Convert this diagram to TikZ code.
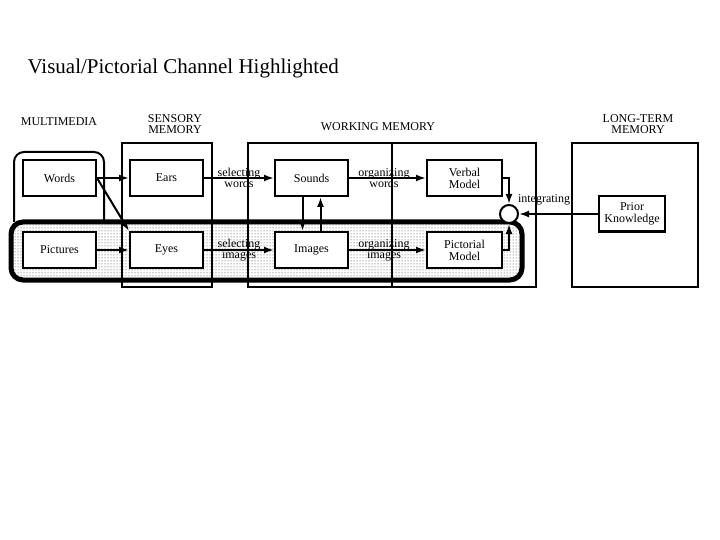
\documentclass[tikz,border=0pt]{standalone}
\usepackage{fontspec}
\setmainfont{Liberation Serif}
\usetikzlibrary{arrows.meta,patterns}
\begin{document}
\begin{tikzpicture}[x=1pt,y=-1pt,
  box/.style={draw,line width=2pt,minimum width=73pt,minimum height=36pt,inner sep=1pt,align=center,font=\fontsize{12}{12}\selectfont,fill=white},
  frame/.style={draw,line width=2pt},
  arr/.style={line width=2pt,-{Latex[length=10pt,width=7pt]}},
  lbl/.style={font=\fontsize{12}{11}\selectfont,align=center,inner sep=0pt},
  hd/.style={font=\fontsize{12}{11}\selectfont,align=center}]
\useasboundingbox (0,0) rectangle (720,540);
\node[anchor=west,font=\fontsize{21}{21}\selectfont] (title) at (24,68) {Visual/Pictorial Channel Highlighted};
\node[hd] (hmm) at (59,122) {MULTIMEDIA};
\node[hd] (hsm) at (175,124) {SENSORY\\MEMORY};
\node[hd] (hwm) at (378,127) {WORKING MEMORY};
\node[hd] (hlt) at (638,124) {LONG-TERM\\MEMORY};
% frames
\draw[frame,rounded corners=10pt] (14,222) -- (14,152) -- (104,152) -- (104,222);
\draw[frame] (122,143) rectangle (212,287);
\draw[frame] (248,143) rectangle (536,287);
\draw[frame] (392,143) -- (392,287);
\draw[frame] (572,143) rectangle (698,287);
% highlight
\draw[line width=5pt,rounded corners=12pt,pattern=dots,pattern color=black!80] (11,222) rectangle (522,280);
\draw[frame] (392,224) -- (392,287);
% boxes
\node[box] (words) at (59.5,178) {Words};
\node[box] (ears) at (166.5,178) {Ears};
\node[box] (sounds) at (311.5,178) {Sounds};
\node[box,minimum width=75pt] (verbal) at (464.5,178) {Verbal\\Model};
\node[box] (pictures) at (59.5,250) {Pictures};
\node[box] (eyes) at (166.5,250) {Eyes};
\node[box] (images) at (311.5,250) {Images};
\node[box,minimum width=75pt] (pict) at (464.5,250) {Pictorial\\Model};
\node[box,minimum width=66pt,minimum height=35pt] (prior) at (632,214) {Prior\\Knowledge};
\node[draw,line width=2pt,circle,minimum size=18pt,inner sep=0pt,fill=white] (int) at (509,214) {};
\node[lbl] (intl) at (544,200) {integrating};
% arrows
\draw[arr] (words) -- (ears);
\draw[arr] (words.east) -- (eyes.north west);
\draw[arr] (pictures) -- (eyes);
\draw[arr] (ears) -- (sounds);
\draw[arr] (eyes) -- (images);
\node[lbl] (sw) at (239,178) {selecting\\words};
\node[lbl] (si) at (239,250) {selecting\\images};
\draw[arr] (sounds) -- (verbal);
\draw[arr] (images) -- (pict);
\node[lbl] (ow) at (384,178) {organizing\\words};
\node[lbl] (oi) at (384,250) {organizing\\images};
\draw[arr] ([xshift=-9pt]sounds.south) -- ([xshift=-9pt]images.north);
\draw[arr] ([xshift=9pt]images.north) -- ([xshift=9pt]sounds.south);
\draw[arr] (verbal.east) -| (int.north);
\draw[arr] (pict.east) -| (int.south);
\draw[arr] (prior.west) -- (int.east);
\end{tikzpicture}
\end{document}
